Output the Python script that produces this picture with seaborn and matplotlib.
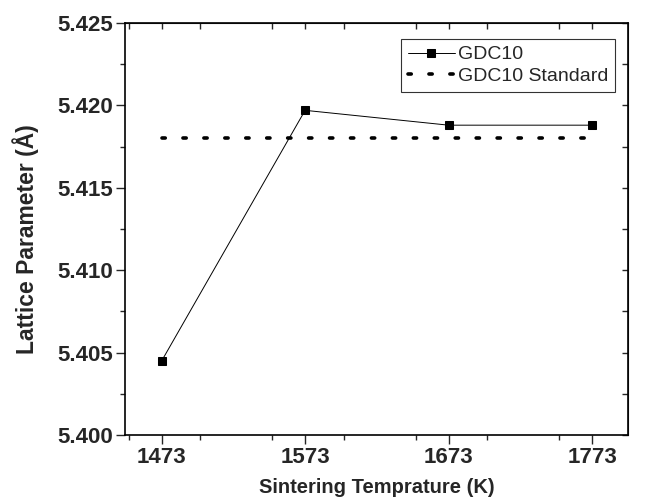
import matplotlib
matplotlib.use("Agg")
import matplotlib.pyplot as plt
import pandas as pd
import seaborn as sns
from matplotlib.ticker import MultipleLocator

temps = [1473, 1573, 1673, 1773]
lattice = [5.4045, 5.4197, 5.4188, 5.4188]
standard = [5.418, 5.418, 5.418, 5.418]


def make_plot():
    sns.set_style("ticks")
    plt.rcParams["font.family"] = ["Liberation Sans", "DejaVu Sans"]

    df = pd.DataFrame({"T": temps, "GDC10": lattice, "GDC10 Standard": standard})

    fig = plt.figure(figsize=(6.48, 4.99), dpi=100)
    ax = fig.add_axes([0.193, 0.128, 0.776, 0.826])

    sns.lineplot(data=df, x="T", y="GDC10", ax=ax, color="black", lw=0.7,
                 marker="s", markersize=6, markeredgecolor="black",
                 label="GDC10")
    sns.lineplot(data=df, x="T", y="GDC10 Standard", ax=ax, color="black",
                 lw=2.6, dashes=False, label="GDC10 Standard")
    ax.lines[1].set_linestyle((0, (0.9, 4.9)))
    ax.lines[1].set_dash_capstyle("round")

    ax.set_xlim(1447.5, 1798)
    ax.set_ylim(5.400, 5.425)
    ax.set_xticks(temps)
    ax.xaxis.set_minor_locator(MultipleLocator(50))
    ax.yaxis.set_major_locator(MultipleLocator(0.005))
    ax.yaxis.set_minor_locator(MultipleLocator(0.0025))
    ax.yaxis.set_major_formatter(matplotlib.ticker.FormatStrFormatter("%.3f"))

    ax.tick_params(which="major", direction="out", length=6.5, width=1,
                   labelsize=16, pad=2)
    ax.tick_params(which="minor", direction="out", length=3.5, width=1)
    for lab in ax.get_xticklabels() + ax.get_yticklabels():
        lab.set_fontweight("bold")
    for sp in ax.spines.values():
        sp.set_linewidth(1.2)
        sp.set_color("black")

    # mirrored ticks pointing inwards on top/right
    top = ax.secondary_xaxis("top")
    top.set_xticks(temps)
    top.xaxis.set_minor_locator(MultipleLocator(50))
    top.tick_params(which="both", direction="in", length=4, width=1,
                    labeltop=False)
    right = ax.secondary_yaxis("right")
    right.yaxis.set_major_locator(MultipleLocator(0.005))
    right.yaxis.set_minor_locator(MultipleLocator(0.0025))
    right.tick_params(which="both", direction="in", length=4, width=1,
                      labelright=False)

    ax.set_xlabel("Sintering Temprature (K)", fontsize=14.5, fontweight="bold")
    ax.set_ylabel("Lattice Parameter (Å)", fontsize=16.5, fontweight="bold")
    ax.xaxis.set_label_coords(0.5, -0.105)
    ax.yaxis.set_label_coords(-0.172, 0.475)

    leg = ax.legend(loc="upper right", bbox_to_anchor=(0.974, 0.961),
                    borderaxespad=0, fontsize=14, frameon=True, fancybox=False,
                    handlelength=2.4, handletextpad=0.15, borderpad=0.35,
                    labelspacing=0.2)
    leg.get_frame().set_edgecolor("black")
    leg.get_frame().set_linewidth(0.8)

    plt.savefig("out.png", dpi=100)


if __name__ == "__main__":
    make_plot()
